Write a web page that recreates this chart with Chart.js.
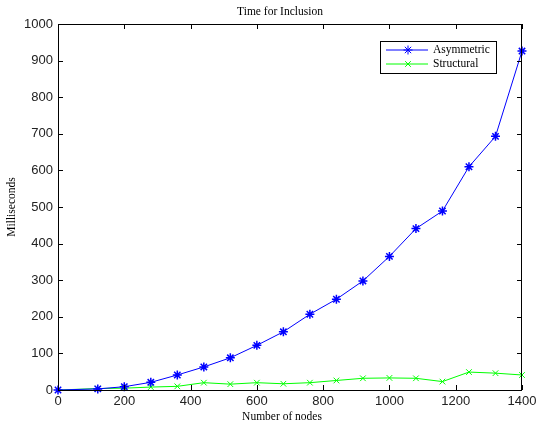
<!DOCTYPE html>
<html>
<head>
<meta charset="utf-8">
<script src="https://cdn.jsdelivr.net/npm/chart.js@4.4.0/dist/chart.umd.min.js"></script>
<style>
    html, body { margin: 0; padding: 0; background: #fff; }
    #wrap { width: 537px; height: 425px; }
</style>
</head>
<body>
<div id="wrap"><canvas id="inclusionChart"></canvas></div>
<script>
const nodes = [0, 120, 200, 280, 360, 440, 520, 600, 680, 760, 840, 920, 1000, 1080, 1160, 1240, 1320, 1400];
const asymmetricMs = [0, 3, 9, 21, 41, 63, 88, 122, 159, 207, 248, 298, 365, 441, 489, 610, 693, 926];
const structuralMs = [0, 4, 5, 8, 10, 20, 16, 20, 17, 20, 26, 32, 33, 32, 23, 49, 46, 41];
const xTicks = [0, 200, 400, 600, 800, 1000, 1200, 1400];
const yTicks = [0, 100, 200, 300, 400, 500, 600, 700, 800, 900, 1000];

const chartTitle = 'Time for Inclusion';
const xTitle = 'Number of nodes';
const yTitle = 'Milliseconds';

const serif = '"Liberation Serif", "Times New Roman", serif';
const sans = '"Liberation Sans", Arial, sans-serif';

const toPoints = (values) => values.map((v, i) => ({ x: nodes[i], y: v }));

// frame, inward ticks, titles and the boxed legend
const matlabLook = {
    id: 'matlabLook',
    afterDraw(chart) {
        const { ctx, chartArea: a, scales } = chart;
        const tick = 5;
        ctx.save();
        ctx.strokeStyle = '#000';
        ctx.lineWidth = 1;
        ctx.strokeRect(a.left + 0.5, a.top + 0.5, a.right - a.left - 1, a.bottom - a.top);
        ctx.beginPath();
        xTicks.forEach((v) => {
            const x = Math.round(scales.x.getPixelForValue(v)) + 0.5;
            ctx.moveTo(x, a.bottom); ctx.lineTo(x, a.bottom - tick);
            ctx.moveTo(x, a.top); ctx.lineTo(x, a.top + tick);
        });
        yTicks.forEach((v) => {
            const y = Math.round(scales.y.getPixelForValue(v)) + 0.5;
            ctx.moveTo(a.left, y); ctx.lineTo(a.left + tick, y);
            ctx.moveTo(a.right, y); ctx.lineTo(a.right - tick, y);
        });
        ctx.stroke();

        ctx.fillStyle = '#000';
        ctx.font = '11.5px ' + serif;
        ctx.textAlign = 'center';
        ctx.textBaseline = 'middle';
        ctx.fillText(chartTitle, 280, 12);
        ctx.fillText(xTitle, 282, 417);
        ctx.save();
        ctx.translate(12, (a.top + a.bottom) / 2);
        ctx.rotate(-Math.PI / 2);
        ctx.fillText(yTitle, 0, 0);
        ctx.restore();

        // legend
        const bx = a.right - 142, by = a.top + 17, bw = 116, bh = 32;
        ctx.fillStyle = '#fff';
        ctx.fillRect(bx, by, bw, bh);
        ctx.strokeRect(bx + 0.5, by + 0.5, bw, bh);
        chart.data.datasets.forEach((ds, i) => {
            const y = by + 9 + i * 14;
            ctx.strokeStyle = ds.borderColor;
            ctx.beginPath();
            ctx.moveTo(bx + 6, y); ctx.lineTo(bx + 48, y);
            ctx.stroke();
            Chart.helpers.drawPoint(ctx, {
                pointStyle: ds.pointStyle, radius: ds.pointRadius, rotation: 0, borderWidth: ds.pointBorderWidth,
            }, bx + 28, y);
            ctx.fillStyle = '#000';
            ctx.textAlign = 'left';
            ctx.fillText(ds.label, bx + 53, y);
        });
        ctx.restore();
    },
};

new Chart(document.getElementById('inclusionChart'), {
    type: 'line',
    data: {
        datasets: [
            {
                label: 'Asymmetric',
                data: toPoints(asymmetricMs),
                borderColor: '#0000ff',
                backgroundColor: '#0000ff',
                borderWidth: 1,
                pointStyle: 'star',
                pointRadius: 4.5,
                pointBorderWidth: 1.5,
                pointBorderColor: '#0000ff',
                clip: false,
            },
            {
                label: 'Structural',
                data: toPoints(structuralMs),
                borderColor: '#00ff00',
                backgroundColor: '#00ff00',
                borderWidth: 1,
                pointStyle: 'crossRot',
                pointRadius: 4,
                pointBorderWidth: 1,
                pointBorderColor: '#00ff00',
                clip: false,
            },
        ],
    },
    options: {
        responsive: true,
        maintainAspectRatio: false,
        animation: false,
        devicePixelRatio: 1,
        layout: { padding: { top: 24, right: 15, left: 0, bottom: 0 } },
        plugins: {
            legend: { display: false },
            title: { display: false },
            tooltip: { enabled: false },
        },
        scales: {
            x: {
                type: 'linear',
                min: 0,
                max: 1400,
                grid: { display: false, drawTicks: false, tickLength: 0 },
                border: { display: false },
                afterBuildTicks: (s) => { s.ticks = xTicks.map((v) => ({ value: v })); },
                afterFit: (s) => { s.height = 35; s.paddingLeft = 0; s.paddingRight = 0; },
                ticks: {
                    padding: 4, color: '#222', maxRotation: 0,
                    font: { family: sans, size: 13 },
                    callback: (v) => String(v),
                },
            },
            y: {
                min: 0,
                max: 1000,
                grid: { display: false, drawTicks: false, tickLength: 0 },
                border: { display: false },
                afterBuildTicks: (s) => { s.ticks = yTicks.map((v) => ({ value: v })); },
                afterFit: (s) => { s.width = 58; s.paddingTop = 0; s.paddingBottom = 0; },
                ticks: {
                    padding: 5, color: '#222',
                    font: { family: sans, size: 13 },
                    callback: (v) => String(v),
                },
            },
        },
    },
    plugins: [matlabLook],
});
</script>
</body>
</html>
